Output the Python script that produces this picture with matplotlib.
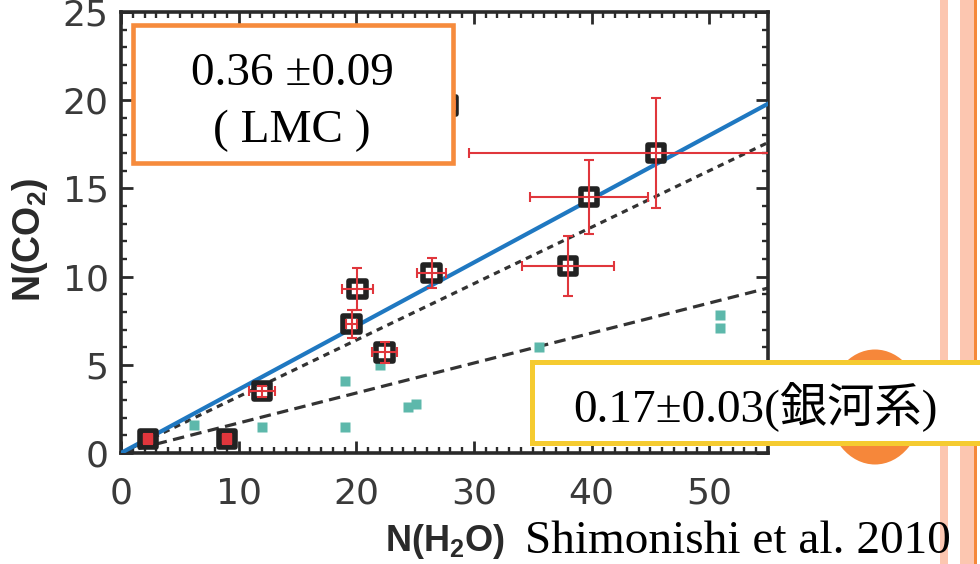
import matplotlib.pyplot as plt
from matplotlib.patches import Rectangle, Ellipse
from matplotlib.ticker import MultipleLocator
import numpy as np

plt.rcParams["mathtext.fontset"] = "custom"
plt.rcParams["mathtext.bf"] = "Liberation Sans:bold"

# LMC sources (black squares, red error bars)
lmc_h2o = [2.3, 9.0, 12.0, 19.6, 20.1, 22.4, 26.4, 27.8, 38.0, 39.8, 45.5]
lmc_co2 = [0.8, 0.8, 3.5, 7.3, 9.3, 5.7, 10.2, 19.7, 10.6, 14.5, 17.0]
lmc_h2o_err = [0.3, 0.3, 1.1, 0.5, 1.3, 1.05, 1.2, 0.6, 3.9, 5.0, 15.9]
lmc_co2_err = [0.3, 0.3, 0.3, 0.8, 1.2, 0.6, 0.85, 0.3, 1.7, 2.1, 3.1]
lmc_filled = [True, True, False, False, False, False, False, False, False, False, False]

# Galactic sources (teal squares)
gal_h2o = [6.2, 12.0, 19.0, 19.0, 22.0, 24.4, 25.1, 35.5, 50.9, 50.9]
gal_co2 = [1.6, 1.5, 4.1, 1.5, 5.0, 2.6, 2.8, 6.0, 7.8, 7.1]

# slopes of the fitted lines
fit_lmc = 0.36
fit_mid = 0.32
fit_gal = 0.17

W, H = 980, 564
fig = plt.figure(figsize=(W / 100, H / 100), dpi=100)
ax = fig.add_axes([121 / W, 1 - 453 / H, 647 / W, 441 / H])

xs = np.array([0, 55])
ax.plot(xs, fit_lmc * xs, color="#1f78c1", lw=3, zorder=3)
ax.plot(xs, fit_mid * xs, color="#333333", lw=2.3, dashes=(2, 1.7), zorder=2)
ax.plot(xs, fit_gal * xs, color="#333333", lw=2.3, dashes=(3.6, 2), zorder=2)

ax.plot(gal_h2o, gal_co2, "s", color="#5db8ab", ms=7.5, mec="none", zorder=2)

faces = ["#e0363c" if f else "white" for f in lmc_filled]
ax.scatter(lmc_h2o, lmc_co2, marker="s", s=135, facecolors=faces,
           edgecolors="#222222", linewidths=4, zorder=4)
ax.errorbar(lmc_h2o, lmc_co2, xerr=lmc_h2o_err, yerr=lmc_co2_err, fmt="none",
            ecolor="#e0363c", elinewidth=1.5, capsize=3.5, capthick=1.5, zorder=5)

ax.set_xlim(0, 55)
ax.set_ylim(0, 25)
ax.xaxis.set_major_locator(MultipleLocator(10))
ax.xaxis.set_minor_locator(MultipleLocator(1))
ax.yaxis.set_major_locator(MultipleLocator(5))
ax.yaxis.set_minor_locator(MultipleLocator(1))
ax.tick_params(which="both", direction="in", top=True, right=True, color="#2a2a2a")
ax.tick_params(which="major", length=8.5, width=2)
ax.tick_params(which="minor", length=4.5, width=1.7)
ax.tick_params(axis="x", labelsize=26, labelcolor="#3a3a3a", pad=17)
ax.tick_params(axis="y", labelsize=26, labelcolor="#3a3a3a", pad=9)
for sp in ax.spines.values():
    sp.set_linewidth(2.6)
    sp.set_color("#2a2a2a")

ax.set_xlabel(r"N(H$_\mathbf{2}$O)", fontsize=26, fontweight="bold",
              family="Liberation Sans", color="#2a2a2a")
ax.set_ylabel(r"N(CO$_\mathbf{2}$)", fontsize=27, fontweight="bold",
              family="Liberation Sans", color="#2a2a2a")
ax.xaxis.label.set_va("center")
ax.xaxis.set_label_coords(0.5, -0.2)
ax.yaxis.label.set_va("center")
ax.yaxis.set_label_coords(-0.141, 0.483)

# slide decorations (stripes, circle, boxes)
stripe_c = "#fcc6b0"
fig.add_artist(Rectangle((940 / W, 0), 8 / W, 1, transform=fig.transFigure,
                         color=stripe_c, lw=0, zorder=1))
fig.add_artist(Rectangle((960 / W, 0), 14 / W, 1, transform=fig.transFigure,
                         color=stripe_c, lw=0, zorder=1))
fig.add_artist(Rectangle((974 / W, 0), 3 / W, 1, transform=fig.transFigure,
                         color="#f5883a", lw=0, zorder=1))
fig.add_artist(Ellipse((875 / W, 1 - 407 / H), 94 / W, 115 / H, transform=fig.transFigure,
                       color="#f6873a", lw=0, zorder=1.5))

fig.add_artist(Rectangle((133 / W, 1 - 163 / H), 320 / W, 138 / H, transform=fig.transFigure,
                         facecolor="white", edgecolor="#f68b3c", lw=3.3, zorder=2))
fig.add_artist(Rectangle((532 / W, 1 - 443 / H), 470 / W, 81 / H, transform=fig.transFigure,
                         facecolor="white", edgecolor="#f5cb30", lw=3.6, zorder=2))

serif = ["Liberation Serif", "Noto Sans CJK JP"]
fig.text(292 / W, 1 - 85 / H, "0.36 \u00b10.09", family=serif, fontsize=34,
         ha="center", va="baseline", zorder=3)
fig.text(292 / W, 1 - 142 / H, "( LMC )", family=serif, fontsize=34,
         ha="center", va="baseline", zorder=3)
fig.text(755 / W, 1 - 422 / H, "0.17\u00b10.03(銀河系)", family=serif, fontsize=34,
         ha="center", va="baseline", zorder=3)
fig.text(525 / W, 1 - 553 / H, "Shimonishi et al. 2010", family=serif, fontsize=34,
         ha="left", va="baseline", zorder=3)

fig.savefig("out.png", dpi=100)
